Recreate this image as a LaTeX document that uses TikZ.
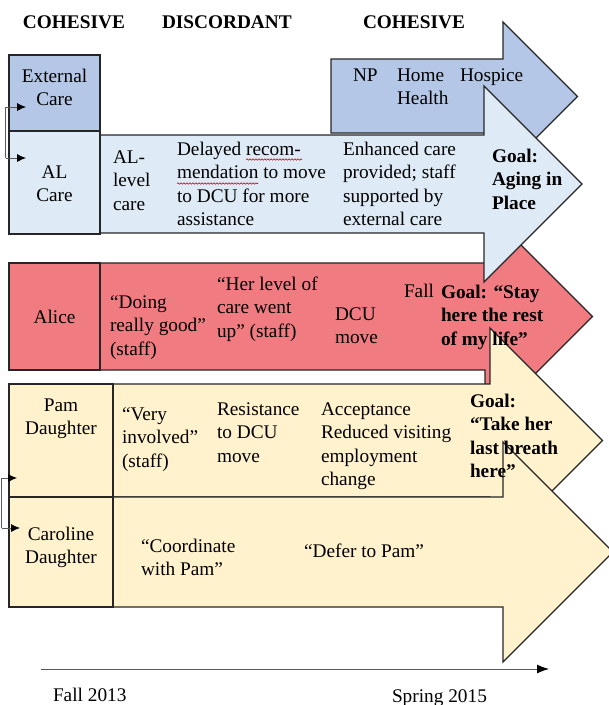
\documentclass[tikz,border=0pt]{standalone}
\usepackage{fontspec}
\setmainfont{Liberation Serif}
\usetikzlibrary{arrows.meta,decorations.pathmorphing}
\definecolor{cblue}{HTML}{B4C7E7}
\definecolor{clight}{HTML}{DEEBF7}
\definecolor{cred}{HTML}{F07C82}
\definecolor{cyel}{HTML}{FFF2CC}
\definecolor{cline}{HTML}{262626}
\definecolor{cgray}{HTML}{595959}
\tikzset{
  shapeline/.style={draw=cline, line width=1.3pt, line join=miter},
  lbox/.style={shapeline, rectangle, inner sep=0pt, outer sep=0pt},
  txt/.style={font=\fontsize{19.3}{23.6}\selectfont, inner sep=0pt, outer sep=0pt, align=left, anchor=base west},
  ctxt/.style={txt, align=center, anchor=base},
  btxt/.style={txt, font=\fontsize{19.3}{23.6}\selectfont\bfseries},
  brk/.style={draw=cgray, line width=0.8pt},
  brkarrow/.style={brk, -{Latex[length=9pt,width=8pt,color=black]}},
  squig/.style={draw=red!80!black, line width=0.6pt, decorate, decoration={snake, amplitude=0.7pt, segment length=3pt}}
}
\begin{document}
\begin{tikzpicture}[x=1pt,y=-1pt]
\useasboundingbox (0,0) rectangle (609,705);
\clip (0,0) rectangle (609,705);
\fill[white] (0,0) rectangle (609,705);

% arrows (back to front)
\path[shapeline, fill=cblue] (331,59) -- (503,59) -- (503,22) -- (577.5,96.5) -- (503,171) -- (503,133) -- (331,133) -- cycle;
\path[shapeline, fill=cred] (100,263) -- (485,263) -- (485,209) -- (592.5,316.5) -- (485,424) -- (485,370) -- (100,370) -- cycle;
\path[shapeline, fill=clight] (100,135) -- (484,135) -- (484,86) -- (582,184) -- (484,282) -- (484,233) -- (100,233) -- cycle;
\path[shapeline, fill=cyel] (113,384) -- (490,384) -- (490,328) -- (602.5,440.5) -- (490,553) -- (490,497) -- (113,497) -- cycle;
\path[shapeline, fill=cyel] (113,497) -- (503,497) -- (503,442) -- (613,552) -- (503,662) -- (503,607) -- (113,607) -- cycle;

% label boxes
\node[lbox, fill=cblue, minimum width=91pt, minimum height=76pt] (ext) at (54.5,93) {};
\node[lbox, fill=clight, minimum width=91pt, minimum height=103pt] (al) at (54.5,182.5) {};
\node[lbox, fill=cred, minimum width=91pt, minimum height=107pt] (alice) at (54.5,316.5) {};
\node[lbox, fill=cyel, minimum width=104pt, minimum height=113pt] (pam) at (61,440.5) {};
\node[lbox, fill=cyel, minimum width=104pt, minimum height=110pt] (car) at (61,552) {};

% headers
\node[btxt] (h1) at (23,28) {COHESIVE};
\node[btxt] (h2) at (162,28) {DISCORDANT};
\node[btxt] (h3) at (363,28) {COHESIVE};

% external care row (base = last line's baseline)
\node[ctxt] (tExt) at (54.5,105.6) {External\\Care};
\node[txt] (tNP) at (353,81) {NP};
\node[txt] (tHome) at (397,104.6) {Home\\Health};
\node[txt] (tHosp) at (460,81) {Hospice};

% AL care row
\node[ctxt] (tAL) at (54.5,201.6) {AL\\Care};
\node[txt] (tALlevel) at (113,210.2) {AL-\\level\\care};
\node[txt] (tDelay) at (177,225.8) {Delayed recom-\\mendation to move\\to DCU for more\\assistance};
\node[txt] (tEnh) at (343,225.8) {Enhanced care\\provided; staff\\supported by\\external care};
\node[btxt] (tGoal1) at (492,209.2) {Goal:\\Aging in\\Place};
\coordinate (sq1a) at (246,159.5);
\coordinate (sq1b) at (302,159.5);
\coordinate (sq2a) at (177,183.5);
\coordinate (sq2b) at (258,183.5);
\draw[squig] (sq1a) -- (sq1b);
\draw[squig] (sq2a) -- (sq2b);

% Alice row
\node[ctxt] (tAlice) at (54.5,323) {Alice};
\node[txt] (tDoing) at (110,355.2) {“Doing\\really good”\\(staff)};
\node[txt] (tHer) at (217,337.2) {“Her level of\\care went\\up” (staff)};
\node[txt] (tDCU) at (335,343.6) {DCU\\move};
\node[txt] (tFall) at (404,297) {Fall};
\node[btxt] (tGoal2) at (441,345.2) {Goal: “Stay\\here the rest\\of my life”};

% Pam row
\node[ctxt] (tPam) at (61,434.6) {Pam\\Daughter};
\node[txt] (tVery) at (122,467.2) {“Very\\involved”\\(staff)};
\node[txt] (tRes) at (217,462.2) {Resistance\\to DCU\\move};
\node[txt] (tAcc) at (321,485.8) {Acceptance\\Reduced visiting\\employment\\change};
\node[btxt] (tGoal3) at (470,477.8) {Goal:\\“Take her\\last breath\\here”};

% Caroline row
\node[ctxt] (tCar) at (61,563.6) {Caroline\\Daughter};
\node[txt] (tCoord) at (141,575.6) {“Coordinate\\with Pam”};
\node[txt] (tDefer) at (304,557) {“Defer to Pam”};

% brackets
\coordinate (b1t) at (5.7,107);
\coordinate (b1b) at (5.7,158);
\coordinate (b1tip1) at (26,107);
\coordinate (b1tip2) at (26,158);
\draw[brk] (b1t) -- (b1b);
\draw[brkarrow] (b1t) -- (b1tip1);
\draw[brkarrow] (b1b) -- (b1tip2);
\coordinate (b2t) at (1.5,478);
\coordinate (b2b) at (1.5,528);
\coordinate (b2tip1) at (17,478);
\coordinate (b2tip2) at (20,528);
\draw[brk] (b2t) -- (b2b);
\draw[brkarrow] (b2t) -- (b2tip1);
\draw[brkarrow] (b2b) -- (b2tip2);

% timeline
\coordinate (tl0) at (41,669);
\coordinate (tl1) at (549,669);
\draw[draw=cgray, line width=0.9pt, -{Latex[length=12pt,width=9pt,color=black]}] (tl0) -- (tl1);
\node[txt] (tStart) at (53,701) {Fall 2013};
\node[txt] (tEnd) at (392,702) {Spring 2015};
\end{tikzpicture}
\end{document}
